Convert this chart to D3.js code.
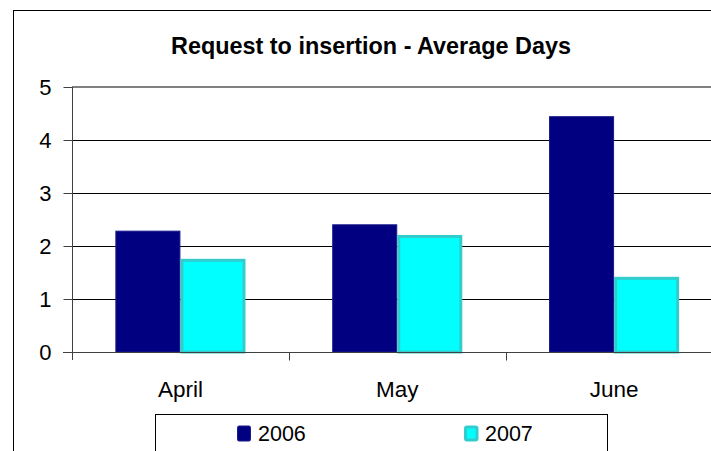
<!DOCTYPE html>
<html>
<head>
  <meta charset='utf-8'>
  <style>
  body { margin: 0; background: #fff; }
  svg { display: block; font-family: 'Liberation Sans', Arial, sans-serif; }
  .grid line { stroke: #000; stroke-width: 1px; }
  .axis path, .axis line { stroke: #404040; }
  </style>
</head>
<body>
<script src='https://d3js.org/d3.v7.min.js'></script>
<script>

var TITLE = 'Request to insertion - Average Days';
var months = ['April', 'May', 'June'];
var years = ['2006', '2007'];
var values2006 = [2.28, 2.40, 4.44];
var values2007 = [1.73, 2.18, 1.39];
var yTicks = [0, 1, 2, 3, 4, 5];

var SVG_WIDTH = 711;
var SVG_HEIGHT = 451;

var colors = {'2006': '#000080', '2007': '#00ffff'};
var strokes = {'2006': '#1a1a8c', '2007': '#33cccc'};

var data = months.map(function(m, i) {
  return {month: m, '2006': values2006[i], '2007': values2007[i]};
});

var svg = d3.select('body').append('svg')
    .attr('width', SVG_WIDTH)
    .attr('height', SVG_HEIGHT);

// outer chart frame (runs past the window on the right and bottom)
svg.append('rect')
    .attr('x', 13.5).attr('y', 10.5)
    .attr('width', 800).attr('height', 500)
    .attr('fill', '#fff')
    .attr('stroke', '#000');

var plot = {left: 72, right: 722.5, top: 87, bottom: 352};

var x0 = d3.scaleBand()
    .domain(months)
    .range([plot.left, plot.right]);

var bw = x0.bandwidth();
var x1 = d3.scaleBand()
    .domain(years)
    .range([bw * 0.2, bw * 0.8]);

var y = d3.scaleLinear()
    .domain([0, 5])
    .range([plot.bottom, plot.top]);

// gridlines
svg.append('g')
    .attr('class', 'grid')
  .selectAll('line')
  .data(yTicks.filter(function(t) { return t > 0 && t < 5; }))
  .enter().append('line')
    .attr('x1', plot.left).attr('x2', plot.right)
    .attr('y1', function(d) { return Math.round(y(d)) + 0.5; })
    .attr('y2', function(d) { return Math.round(y(d)) + 0.5; });

// plot area top border
svg.append('line')
    .attr('x1', plot.left).attr('x2', plot.right)
    .attr('y1', y(5)).attr('y2', y(5))
    .attr('stroke', '#808080')
    .attr('stroke-width', 2);

// bars
var groups = svg.append('g')
  .selectAll('g')
  .data(data)
  .enter().append('g')
    .attr('transform', function(d) { return 'translate(' + x0(d.month) + ',0)'; });

groups.selectAll('rect')
  .data(function(d) { return years.map(function(k) { return {key: k, value: d[k]}; }); })
  .enter().append('rect')
    .attr('x', function(d) { return x1(d.key) + (d.key === '2007' ? 1.5 : 0.5); })
    .attr('y', function(d) { return y(d.value); })
    .attr('width', function(d) { return x1.bandwidth() - (d.key === '2007' ? 3 : 1); })
    .attr('height', function(d) { return y(0) - y(d.value); })
    .attr('fill', function(d) { return colors[d.key]; })
    .attr('stroke', function(d) { return strokes[d.key]; })
    .attr('stroke-width', function(d) { return d.key === '2007' ? 3 : 1; });

// y axis
var yAxis = svg.append('g')
    .attr('class', 'axis')
    .attr('transform', 'translate(' + (plot.left + 0.5) + ',0)')
    .call(d3.axisLeft(y).tickValues(yTicks).tickFormat(d3.format('d'))
      .tickSize(9).tickPadding(12).tickSizeOuter(0));
yAxis.select('.domain').remove();
yAxis.append('line')
    .attr('y1', plot.top).attr('y2', plot.bottom + 8)
    .attr('stroke', '#404040');
yAxis.selectAll('text')
    .attr('fill', '#000')
    .style('font-size', '22px');

// x axis baseline and category ticks
var xAxis = svg.append('g')
    .attr('class', 'axis')
    .attr('transform', 'translate(0,' + (plot.bottom + 0.5) + ')');
xAxis.append('line')
    .attr('x1', plot.left - 9).attr('x2', plot.right)
    .attr('stroke', '#404040');
xAxis.selectAll('.cat-tick')
  .data(months.slice(1))
  .enter().append('line')
    .attr('class', 'cat-tick')
    .attr('x1', function(d) { return Math.round(x0(d)) + 0.5; })
    .attr('x2', function(d) { return Math.round(x0(d)) + 0.5; })
    .attr('y1', 0).attr('y2', 8)
    .attr('stroke', '#404040');
xAxis.selectAll('.cat-label')
  .data(months)
  .enter().append('text')
    .attr('class', 'cat-label')
    .attr('x', function(d) { return x0(d) + bw / 2; })
    .attr('y', 44.5)
    .attr('text-anchor', 'middle')
    .style('font-size', '22.5px')
    .text(function(d) { return d; });

// title
svg.append('text')
    .attr('x', 371)
    .attr('y', 54)
    .attr('text-anchor', 'middle')
    .style('font-size', '23.4px')
    .style('font-weight', 'bold')
    .text(TITLE);

// legend
var legend = svg.append('g');
legend.append('rect')
    .attr('x', 155.5).attr('y', 414.5)
    .attr('width', 452).attr('height', 60)
    .attr('fill', '#fff')
    .attr('stroke', '#000');

var legendX = d3.scalePoint()
    .domain(years)
    .range([237, 464]);

var items = legend.selectAll('g.item')
  .data(years)
  .enter().append('g')
    .attr('class', 'item')
    .attr('transform', function(d) { return 'translate(' + legendX(d) + ',0)'; });

items.append('rect')
    .attr('x', function(d) { return d === '2007' ? 1.5 : 0.5; })
    .attr('y', function(d) { return d === '2007' ? 427 : 426; })
    .attr('width', function(d) { return d === '2007' ? 11.5 : 13; })
    .attr('height', function(d) { return d === '2007' ? 13 : 15; })
    .attr('rx', 1.5)
    .attr('fill', function(d) { return colors[d]; })
    .attr('stroke', function(d) { return strokes[d]; })
    .attr('stroke-width', function(d) { return d === '2007' ? 3 : 1; });

items.append('text')
    .attr('x', 21)
    .attr('y', 441)
    .style('font-size', '21.5px')
    .text(function(d) { return d; });

</script>
</body>
</html>
